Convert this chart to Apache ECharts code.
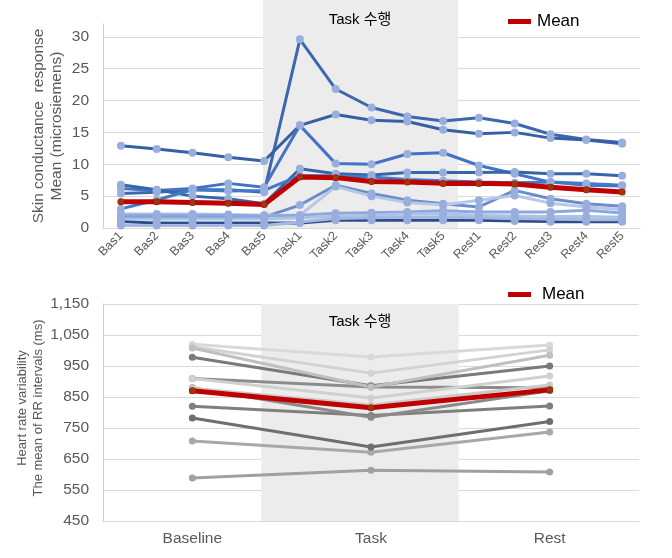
<!DOCTYPE html>
<html><head><meta charset="utf-8">
<script src="https://cdn.jsdelivr.net/npm/echarts@6/dist/echarts.min.js"></script>
<style>html,body{margin:0;padding:0;background:#fff}#c{width:672px;height:558px}</style>
</head><body><div id="c"></div>
<script>
// ---- Top chart data (Skin conductance response) ----
const scrCategories = ['Bas1','Bas2','Bas3','Bas4','Bas5','Task1','Task2','Task3','Task4','Task5','Rest1','Rest2','Rest3','Rest4','Rest5'];
const scrS1  = [5.4, 5.6, 6.0, 6.0, 5.6, 29.6, 21.8, 18.9, 17.5, 16.8, 17.3, 16.4, 14.7, 13.9, 13.4];
const scrS2  = [12.9, 12.4, 11.8, 11.1, 10.5, 16.1, 17.8, 16.9, 16.7, 15.4, 14.8, 15.0, 14.1, 13.8, 13.2];
const scrS3  = [6.2, 5.9, 6.2, 7.0, 6.4, 16.1, 10.1, 10.0, 11.6, 11.8, 9.8, 8.5, 7.2, 6.7, 6.6];
const scrS4  = [6.8, 6.0, 5.0, 4.6, 3.8, 9.3, 8.5, 8.3, 8.7, 8.7, 8.7, 8.8, 8.5, 8.5, 8.2];
const scrS5  = [3.0, 4.4, 6.0, 5.8, 5.9, 8.2, 8.2, 8.0, 7.6, 7.4, 7.2, 7.1, 7.2, 7.0, 6.7];
const scrS6  = [1.7, 1.8, 1.8, 1.8, 1.7, 3.6, 6.7, 5.4, 4.35, 3.8, 3.3, 5.9, 4.6, 3.8, 3.4];
const scrS7  = [2.2, 2.2, 2.2, 2.1, 2.0, 2.0, 6.5, 5.0, 4.0, 3.6, 4.35, 5.1, 3.9, 3.3, 2.9];
const scrS8  = [2.0, 2.0, 2.0, 2.0, 1.9, 2.0, 2.3, 2.4, 2.5, 2.7, 2.5, 2.5, 2.5, 2.8, 2.35];
const scrS9  = [1.4, 1.4, 1.4, 1.4, 1.4, 1.6, 1.9, 2.0, 2.2, 2.2, 2.0, 1.9, 1.8, 1.8, 1.7];
const scrS10 = [1.0, 0.8, 0.8, 0.8, 0.8, 0.8, 1.2, 1.2, 1.2, 1.2, 1.2, 1.1, 1.0, 1.0, 1.0];
const scrS11 = [0.4, 0.4, 0.4, 0.4, 0.4, 0.95, 1.5, 1.6, 1.7, 1.7, 1.6, 1.5, 1.4, 1.3, 1.3];
const scrMean = [4.1, 4.1, 4.0, 3.9, 3.7, 8.0, 7.9, 7.3, 7.2, 7.0, 7.0, 6.9, 6.4, 6.0, 5.65];
const scrTicks = [0, 5, 10, 15, 20, 25, 30];

// ---- Bottom chart data (Heart rate variability) ----
const hrvCategories = ['Baseline', 'Task', 'Rest'];
const hrvS1  = [589, 614, 608];
const hrvS2  = [708, 672, 737];
const hrvS3  = [782, 689, 771];
const hrvS4  = [820, 790, 821];
const hrvS5  = [880, 785, 870];
const hrvS6  = [978, 886, 950];
const hrvS7  = [910, 882, 880];
const hrvS8  = [1020, 979, 1018];
const hrvS9  = [1012, 927, 1002];
const hrvS10 = [910, 847, 918];
const hrvS11 = [1008, 882, 985];
const hrvS12 = [878, 824, 889];
const hrvMean = [870, 815, 873];
const hrvTicks = [450, 550, 650, 750, 850, 950, 1050, 1150];

// shaded "Task" period, in category-index units
const scrShade = [3.97, 9.42];
const hrvShade = [0.386, 1.49];

const scrList = [scrS1, scrS2, scrS3, scrS4, scrS5, scrS6, scrS7, scrS8, scrS9, scrS10, scrS11];
const scrColors = ['#3d66b0', '#375fa6', '#4472c4', '#3566a8', '#3f7ac9', '#6d8ccc', '#b6c8e8', '#8fa8dc', '#a9c4e6', '#2c4c8c', '#a7b8e0'];
const hrvList = [hrvS1, hrvS2, hrvS3, hrvS4, hrvS5, hrvS6, hrvS7, hrvS8, hrvS9, hrvS10, hrvS11, hrvS12];
const hrvColors = ['#a0a0a0', '#a8a8a8', '#6e6e6e', '#7f7f7f', '#8a8a8a', '#7a7a7a', '#8c8c8c', '#d9d9d9', '#d2d2d2', '#d0d0d0', '#c0c0c0', '#cacaca'];

const FONT = 'Liberation Sans, Arial, Noto Sans CJK KR, sans-serif';
const GRAY = '#595959';
const chart = echarts.init(document.getElementById('c'), null, {renderer: 'canvas'});

const series = [];
// shading
series.push({type: 'line', xAxisIndex: 2, yAxisIndex: 2, data: [], silent: true, z: 0,
  markArea: {silent: true, itemStyle: {color: '#ececec'}, data: [[{xAxis: scrShade[0]}, {xAxis: scrShade[1]}]]}});
series.push({type: 'line', xAxisIndex: 3, yAxisIndex: 3, data: [], silent: true, z: 0,
  markArea: {silent: true, itemStyle: {color: '#ececec'}, data: [[{xAxis: hrvShade[0]}, {xAxis: hrvShade[1]}]]}});

scrList.forEach((d, i) => series.push({
  type: 'line', name: 'scr' + (i + 1), xAxisIndex: 0, yAxisIndex: 0, data: d,
  symbol: 'circle', symbolSize: 8, z: 3,
  lineStyle: {color: scrColors[i], width: 3},
  itemStyle: {color: '#98aedd'}
}));
series.push({type: 'line', name: 'Mean', xAxisIndex: 0, yAxisIndex: 0, data: scrMean,
  symbol: 'circle', symbolSize: 7, z: 5,
  lineStyle: {color: '#c00000', width: 5}, itemStyle: {color: '#c00000'},
  emphasis: {disabled: true}});
series.push({type: 'scatter', name: 'meanDots1', xAxisIndex: 0, yAxisIndex: 0, data: scrMean,
  symbol: 'circle', symbolSize: 6, z: 6, itemStyle: {color: '#8a4a14'}});

hrvList.forEach((d, i) => series.push({
  type: 'line', name: 'hrv' + (i + 1), xAxisIndex: 1, yAxisIndex: 1, data: d,
  symbol: 'circle', symbolSize: 7, z: 3,
  lineStyle: {color: hrvColors[i], width: 3},
  itemStyle: {color: hrvColors[i]}
}));
series.push({type: 'line', name: 'Mean', xAxisIndex: 1, yAxisIndex: 1, data: hrvMean,
  symbol: 'circle', symbolSize: 7, z: 5,
  lineStyle: {color: '#c00000', width: 5}, itemStyle: {color: '#c00000'}});
series.push({type: 'scatter', name: 'meanDots2', xAxisIndex: 1, yAxisIndex: 1, data: hrvMean,
  symbol: 'circle', symbolSize: 6, z: 6, itemStyle: {color: '#8a4a14'}});

const scrSplitColors = scrTicks.map(() => '#d9d9d9').concat(['rgba(0,0,0,0)']);

chart.setOption({
  animation: false,
  textStyle: {fontFamily: FONT},
  grid: [
    {left: 103, right: 32, top: 24, bottom: 330},
    {left: 103, right: 33, top: 304, bottom: 37},
    {left: 103, right: 32, top: 0, bottom: 330},
    {left: 103, right: 33, top: 304, bottom: 37}
  ],
  xAxis: [
    {type: 'category', gridIndex: 0, data: scrCategories, boundaryGap: true,
      axisLine: {lineStyle: {color: '#d9d9d9', width: 1}}, axisTick: {show: false},
      axisLabel: {rotate: 45, interval: 0, fontSize: 12.5, color: GRAY, margin: 6, fontFamily: FONT}},
    {type: 'category', gridIndex: 1, data: hrvCategories, boundaryGap: true,
      axisLine: {lineStyle: {color: '#d9d9d9', width: 1}}, axisTick: {show: false},
      axisLabel: {fontSize: 15.5, color: GRAY, margin: 10, fontFamily: FONT}},
    {type: 'value', gridIndex: 2, min: -0.5, max: 14.5, show: false},
    {type: 'value', gridIndex: 3, min: -0.5, max: 2.5, show: false}
  ],
  yAxis: [
    {type: 'value', gridIndex: 0, min: 0, max: 32, interval: 5,
      axisLine: {show: true, lineStyle: {color: '#cfcfcf'}}, axisTick: {show: false},
      axisLabel: {fontSize: 15.5, color: GRAY, margin: 14, showMaxLabel: false, fontFamily: FONT},
      splitLine: {lineStyle: {color: scrSplitColors, width: 1}}},
    {type: 'value', gridIndex: 1, min: 450, max: 1150, interval: 100,
      axisLine: {show: true, lineStyle: {color: '#cfcfcf'}}, axisTick: {show: false},
      axisLabel: {fontSize: 15.5, color: GRAY, margin: 14, fontFamily: FONT,
        formatter: v => v.toLocaleString('en-US')},
      splitLine: {lineStyle: {color: '#d9d9d9', width: 1}}},
    {type: 'value', gridIndex: 2, min: 0, max: 1, show: false},
    {type: 'value', gridIndex: 3, min: 0, max: 1, show: false}
  ],
  legend: [
    {left: 503, top: 8, data: ['Mean'], icon: 'rect', itemWidth: 23, itemHeight: 5, selectedMode: false,
      textStyle: {fontSize: 17, color: '#000', fontFamily: FONT, padding: [0, 0, 0, 1]}},
    {left: 503, top: 281, data: ['Mean'], icon: 'rect', itemWidth: 23, itemHeight: 5, selectedMode: false,
      textStyle: {fontSize: 17, color: '#000', fontFamily: FONT, padding: [0, 0, 0, 6]}}
  ],
  graphic: [
    {type: 'text', x: 360, y: 20, z: 10, style: {text: 'Task 수행', font: '15px ' + FONT, fill: '#000', textAlign: 'center', textVerticalAlign: 'middle'}},
    {type: 'text', x: 360, y: 322, z: 10, style: {text: 'Task 수행', font: '15px ' + FONT, fill: '#000', textAlign: 'center', textVerticalAlign: 'middle'}},
    {type: 'text', x: 48, y: 126, rotation: Math.PI / 2, z: 10,
      style: {text: 'Skin conductance  response\nMean (microsiemens)', font: '15.5px ' + FONT, lineHeight: 18,
        fill: GRAY, textAlign: 'center', textVerticalAlign: 'middle'}},
    {type: 'text', x: 30.5, y: 408, rotation: Math.PI / 2, z: 10,
      style: {text: 'Heart rate variability\nThe mean of RR intervals (ms)', font: '13px ' + FONT, lineHeight: 16,
        fill: GRAY, textAlign: 'center', textVerticalAlign: 'middle'}}
  ],
  series: series
});
</script></body></html>
